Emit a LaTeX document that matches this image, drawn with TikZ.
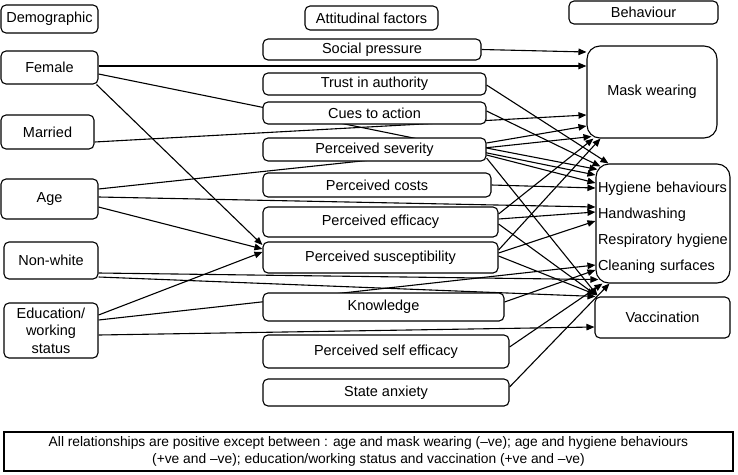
\documentclass[tikz,border=0pt]{standalone}
\usepackage{fontspec}
\setmainfont{Liberation Sans}
\usetikzlibrary{arrows.meta,calc,backgrounds}
\begin{document}
\begin{tikzpicture}[x=1pt,y=-1pt,
  box/.style={draw, rounded corners=5pt, fill=white, line width=1.1pt, inner sep=0pt,
    font=\fontsize{14.5}{17.5}\selectfont, align=center},
  bigbox/.style={box, rounded corners=13pt},
  arr/.style={line width=1.1pt, -{Triangle[length=8pt,width=6.5pt]}},
]
\useasboundingbox (0,0) rectangle (738,474);
% demographic column
\node[box, minimum width=97pt, minimum height=28pt] (demo) at (49.5,19) {Demographic};
\node[box, minimum width=97pt, minimum height=33pt] (female) at (49.5,67.5) {Female};
\node[box, minimum width=93pt, minimum height=34pt] (married) at (47.5,132) {Married};
\node[box, minimum width=97pt, minimum height=40pt] (age) at (49.5,199) {Age};
\node[box, minimum width=94pt, minimum height=37pt] (nonwhite) at (51,260.5) {Non-white};
\node[box, minimum width=94pt, minimum height=55pt] (edu) at (51,330.5) {Education/\\working\\status};
% attitudinal column
\node[box, minimum width=133pt, minimum height=24pt] (att) at (371.5,18) {Attitudinal factors};
\node[box, minimum width=218pt, minimum height=21pt] (social) at (372,49.5) {Social pressure};
\node[box, minimum width=223pt, minimum height=22pt] (trust) at (374.5,84) {Trust in authority};
\node[box, minimum width=223pt, minimum height=22pt] (cues) at (374.5,113) {Cues to action};
\node[box, minimum width=223pt, minimum height=23pt] (severity) at (374.5,149.5) {Perceived severity};
\node[box, minimum width=228pt, minimum height=24pt] (costs) at (377,185) {Perceived costs};
\node[box, minimum width=235pt, minimum height=30pt] (efficacy) at (380.5,222) {Perceived efficacy};
\node[box, minimum width=235pt, minimum height=31pt] (suscept) at (380.5,257.5) {Perceived susceptibility};
\node[box, minimum width=241pt, minimum height=28pt] (knowledge) at (383.5,307) {Knowledge};
\node[box, minimum width=246pt, minimum height=33pt] (selfeff) at (386,351.5) {Perceived self efficacy};
\node[box, minimum width=246pt, minimum height=27pt] (anxiety) at (386,392.5) {State anxiety};
% behaviour column
\node[box, minimum width=149pt, minimum height=23pt] (behav) at (643.5,12.5) {Behaviour};
\node[bigbox, minimum width=130pt, minimum height=92pt] (mask) at (652,92) {Mask wearing};
\node[bigbox, minimum height=119pt, text width=130pt, inner xsep=2pt, align=left,
  font=\fontsize{14.5}{26}\selectfont] (hyg) at (663,223.5)
  {\rule{0pt}{18.5pt}Hygiene behaviours\\Handwashing\\Respiratory hygiene\\Cleaning surfaces};
\node[box, minimum width=135pt, minimum height=41pt] (vacc) at (662.5,317.5) {Vaccination};
% note
\node[draw, fill=white, line width=1.1pt, inner sep=0pt, minimum width=729pt, minimum height=39pt,
  align=center, font=\fontsize{13.8}{17}\selectfont] (note) at (368.5,451.5)
  {All relationships are positive except between : age and mask wearing (–ve); age and hygiene behaviours\\
   (+ve and –ve); education/working status and vaccination (+ve and –ve)};
% connectors
\begin{scope}[on background layer]
\draw[arr] ([yshift=1.5pt]female.east) -- ([yshift=26pt]mask.west);
\draw[arr] ([yshift=-6.5pt]female.east) -- ([yshift=48.5pt]hyg.west);
\draw[arr] ([xshift=-2pt]female.south east) -- ([yshift=12.5pt]suscept.west);
\draw[arr] ([yshift=-10pt]married.east) -- ([yshift=-23pt]mask.west);
\draw[arr] ([yshift=10pt]age.east) -- ([xshift=5pt,yshift=2pt]mask.south west);
\draw[arr] ([yshift=2pt]age.east) -- ([yshift=16.5pt]hyg.west);
\draw[arr] ([yshift=-8pt]age.east) -- ([yshift=8.5pt]suscept.west);
\draw[arr] ([yshift=-12.5pt]nonwhite.east) -- ([xshift=3pt,yshift=4pt]hyg.south west);
\draw[arr] ([yshift=-16.5pt]nonwhite.east) -- ([xshift=1pt]vacc.north west);
\draw[arr] ([yshift=15.5pt]edu.east) -- ([yshift=5.5pt]suscept.west);
\draw[arr] ([yshift=10.5pt]edu.east) -- ([yshift=-41.5pt]hyg.west);
\draw[arr] ([yshift=-4.5pt]edu.east) -- ([yshift=-9.5pt]vacc.west);
\draw[arr] (social.east) -- ([yshift=40pt]mask.west);
\draw[arr] ([yshift=-1pt]trust.east) -- ([xshift=13pt]hyg.north west);
\draw[arr] ([yshift=2pt]cues.east) -- ([xshift=5pt,yshift=-3pt]hyg.north west);
\draw[arr] ([yshift=6.5pt]severity.east) -- ([yshift=-34pt]mask.west);
\draw[arr] ([yshift=1.5pt]severity.east) -- ([xshift=2pt,yshift=-6pt]hyg.north west);
\draw[arr] ([yshift=-5.5pt]severity.east) -- ([yshift=40.5pt]hyg.west);
\draw[arr] ([yshift=-8.5pt]severity.east) -- ([xshift=3pt,yshift=1pt]vacc.north west);
\draw[arr] (costs.east) -- ([yshift=35.5pt]hyg.west);
\draw[arr] ([yshift=8pt]efficacy.east) -- ([xshift=7pt]mask.south west);
\draw[arr] ([yshift=3pt]efficacy.east) -- ([yshift=11.5pt]hyg.west);
\draw[arr] ([yshift=-2pt]efficacy.east) -- ([xshift=2pt,yshift=1pt]vacc.north west);
\draw[arr] ([yshift=7.5pt]suscept.east) -- ([xshift=14pt]mask.south west);
\draw[arr] ([yshift=4.5pt]suscept.east) -- ([yshift=2.5pt]hyg.west);
\draw[arr] ([yshift=1.5pt]suscept.east) -- ([xshift=1pt,yshift=2pt]vacc.north west);
\draw[arr] ([yshift=5pt]knowledge.east) -- ([yshift=-46.5pt]hyg.west);
\draw[arr] ([yshift=4.5pt]selfeff.east) -- ([xshift=7pt]hyg.south west);
\draw[arr] ([yshift=5.5pt]anxiety.east) -- ([xshift=14pt]hyg.south west);
\end{scope}
\end{tikzpicture}
\end{document}
